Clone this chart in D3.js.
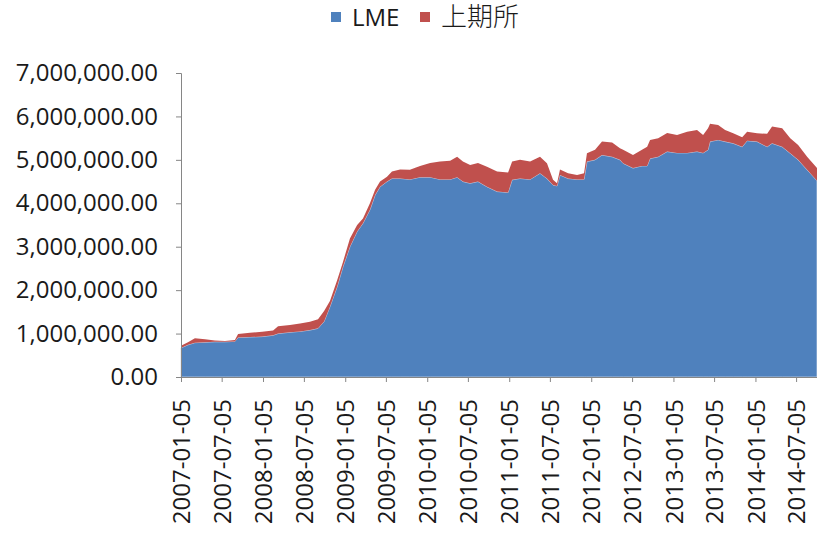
<!DOCTYPE html>
<html><head><meta charset="utf-8">
<script src="https://cdn.jsdelivr.net/npm/d3@7"></script>
<style>
body{margin:0;background:#fff;}
svg{display:block;font-family:"Open Sans","Noto Sans CJK SC",sans-serif;}
</style></head>
<body><svg id="c" width="817" height="534"></svg>
<script>
const dates = ["2007-01-05","2007-02-05","2007-03-08","2007-04-22","2007-06-05","2007-07-20","2007-09-02","2007-09-16","2007-11-08","2008-01-01","2008-02-19","2008-03-12","2008-05-04","2008-06-18","2008-08-01","2008-09-06","2008-10-03","2008-10-29","2008-11-30","2008-12-26","2009-01-26","2009-02-27","2009-03-25","2009-04-25","2009-05-18","2009-06-09","2009-07-10","2009-08-01","2009-09-06","2009-10-20","2009-12-04","2010-01-18","2010-03-03","2010-04-17","2010-05-18","2010-06-13","2010-07-15","2010-08-19","2010-09-28","2010-11-12","2010-12-31","2011-01-18","2011-02-22","2011-04-08","2011-05-22","2011-06-22","2011-07-19","2011-08-06","2011-08-19","2011-09-24","2011-11-03","2011-12-04","2011-12-17","2012-01-22","2012-02-22","2012-04-07","2012-05-12","2012-05-26","2012-07-09","2012-08-18","2012-09-10","2012-09-23","2012-10-29","2012-12-08","2013-01-21","2013-03-07","2013-04-20","2013-05-17","2013-06-08","2013-06-17","2013-07-23","2013-08-23","2013-09-28","2013-11-07","2013-11-29","2014-01-12","2014-02-26","2014-03-20","2014-05-04","2014-06-09","2014-07-14","2014-08-23","2014-10-06"];
const lme = [670000,740000,790000,800000,810000,810000,820000,910000,920000,930000,960000,1000000,1030000,1050000,1080000,1120000,1280000,1620000,2080000,2540000,3000000,3350000,3540000,3850000,4190000,4380000,4500000,4570000,4570000,4550000,4600000,4600000,4550000,4550000,4600000,4500000,4460000,4500000,4380000,4270000,4250000,4540000,4570000,4550000,4690000,4570000,4420000,4400000,4650000,4570000,4550000,4550000,4960000,5000000,5110000,5070000,5000000,4920000,4810000,4860000,4860000,5030000,5070000,5190000,5160000,5160000,5190000,5160000,5230000,5420000,5460000,5420000,5380000,5300000,5440000,5420000,5300000,5380000,5300000,5150000,5000000,4770000,4520000];
const shfe = [50000,60000,100000,70000,30000,20000,30000,80000,100000,110000,110000,170000,170000,180000,190000,210000,240000,130000,150000,110000,190000,150000,110000,150000,120000,120000,110000,160000,210000,220000,260000,330000,410000,430000,470000,460000,420000,430000,460000,460000,460000,420000,430000,410000,380000,350000,120000,60000,130000,120000,100000,140000,190000,230000,310000,330000,270000,310000,300000,370000,440000,430000,430000,430000,410000,490000,500000,410000,500000,410000,340000,270000,230000,220000,210000,190000,300000,390000,430000,350000,340000,300000,290000];
const seriesNames = ["LME","上期所"];
const colors = ["#4F81BD","#C0504D"];
const xTickLabels = ["2007-01-05","2007-07-05","2008-01-05","2008-07-05","2009-01-05","2009-07-05","2010-01-05","2010-07-05","2011-01-05","2011-07-05","2012-01-05","2012-07-05","2013-01-05","2013-07-05","2014-01-05","2014-07-05"];
const yTicks = [0,1000000,2000000,3000000,4000000,5000000,6000000,7000000];

const parse = d3.timeParse("%Y-%m-%d");
const rows = dates.map((d,i)=>({date:parse(d), LME:lme[i], "上期所":shfe[i]}));
const stack = d3.stack().keys(seriesNames)(rows);

const svg = d3.select("#c");
const L=181, R=817, T=73, B=377;
const x = d3.scaleTime().domain([parse("2007-01-05"), parse("2014-10-06")]).range([L,R]);
const y = d3.scaleLinear().domain([0,7000000]).range([B,T]);

const area = d3.area().x(d=>x(d.data.date)).y0(d=>y(d[0])).y1(d=>y(d[1]));
svg.append("g").selectAll("path").data(stack).join("path")
  .attr("d",area).attr("fill",(d,i)=>colors[i])
  .attr("stroke",(d,i)=> i===0 ? "#c9d3e6" : "none").attr("stroke-width",0.8);

// Y axis
const fmt = d3.format(",.2f");
const ya = svg.append("g").attr("transform",`translate(${L},0)`)
  .call(d3.axisLeft(y).tickValues(yTicks).tickFormat(fmt).tickSize(5).tickPadding(18));
ya.select(".domain").attr("stroke","#868686");
ya.selectAll(".tick line").attr("stroke","#868686");
ya.selectAll("text").attr("font-size","24px").attr("fill","#1a1a1a").attr("font-family","'Open Sans',sans-serif");

// X axis
const xa = svg.append("g").attr("transform",`translate(0,${B})`)
  .call(d3.axisBottom(x).tickValues(xTickLabels.map(parse)).tickFormat(d3.timeFormat("%Y-%m-%d")).tickSize(5).tickSizeOuter(0));
xa.select(".domain").attr("stroke","#868686");
xa.selectAll(".tick line").attr("stroke","#868686");
xa.selectAll("text").attr("font-size","24px").attr("fill","#1a1a1a").attr("font-family","'Open Sans',sans-serif")
  .attr("transform","rotate(-90)").attr("text-anchor","end").attr("x",-22).attr("y",0).attr("dy","0.36em");

// Legend
const lg = svg.append("g");
const legendX = [331, 420];
const legendSize = ["24px","26px"];
seriesNames.forEach((n,i)=>{
  lg.append("rect").attr("x",legendX[i]).attr("y",12).attr("width",10).attr("height",10).attr("fill",colors[i]);
  lg.append("text").attr("x",legendX[i]+21).attr("y",26).attr("font-size",legendSize[i]).attr("fill","#1a1a1a")
    .attr("font-weight",i===1?300:400)
    .attr("font-family","'Open Sans','Noto Sans CJK SC',sans-serif").text(n);
});
</script></body></html>
